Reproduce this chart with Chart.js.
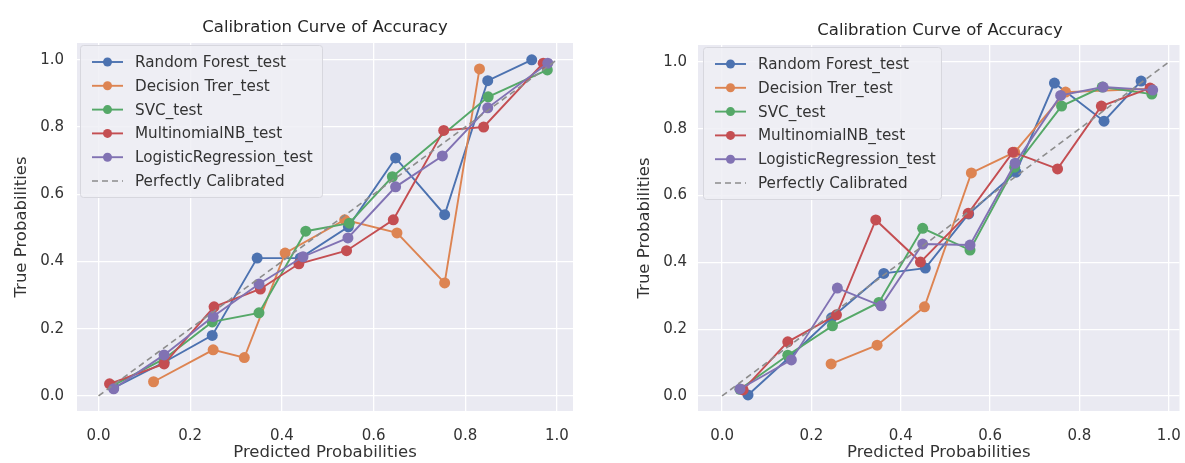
<!DOCTYPE html>
<html>
<head>
<meta charset="utf-8">
<script src="https://cdn.jsdelivr.net/npm/chart.js@4.4.1/dist/chart.umd.min.js"></script>
<style>
  html, body { margin: 0; padding: 0; background: #ffffff; }
  body { width: 1185px; height: 463px; position: relative; overflow: hidden; }
  canvas { position: absolute; top: 0; }
  #c1 { left: 0px; }
  #c2 { left: 600px; }
</style>
</head>
<body>
<canvas id="c1" width="592" height="463"></canvas>
<canvas id="c2" width="585" height="463"></canvas>
<script>
// ---------- data ----------
const seriesNames = ["Random Forest_test", "Decision Trer_test", "SVC_test", "MultinomialNB_test", "LogisticRegression_test"];
const diagName = "Perfectly Calibrated";
const chartTitle = "Calibration Curve of Accuracy";
const xAxisTitle = "Predicted Probabilities";
const yAxisTitle = "True Probabilities";
const xTicks = [0.0, 0.2, 0.4, 0.6, 0.8, 1.0];
const yTicks = [0.0, 0.2, 0.4, 0.6, 0.8, 1.0];
const diagX = [0, 1];
const diagY = [0, 1];

// left chart
const L_rf_x  = [0.033, 0.143, 0.248, 0.346, 0.44, 0.545, 0.648, 0.755, 0.849, 0.945];
const L_rf_y  = [0.024, 0.10, 0.18, 0.41, 0.41, 0.503, 0.708, 0.539, 0.938, 1.0];
const L_dt_x  = [0.12, 0.25, 0.318, 0.407, 0.537, 0.651, 0.755, 0.831];
const L_dt_y  = [0.042, 0.137, 0.114, 0.425, 0.524, 0.485, 0.336, 0.973];
const L_svc_x = [0.03, 0.143, 0.248, 0.35, 0.452, 0.547, 0.641, 0.85, 0.979];
const L_svc_y = [0.03, 0.11, 0.22, 0.247, 0.49, 0.514, 0.652, 0.89, 0.97];
const L_nb_x  = [0.024, 0.143, 0.252, 0.353, 0.437, 0.541, 0.643, 0.753, 0.84, 0.97];
const L_nb_y  = [0.036, 0.095, 0.265, 0.318, 0.393, 0.432, 0.524, 0.79, 0.80, 0.99];
const L_lr_x  = [0.033, 0.143, 0.25, 0.35, 0.446, 0.544, 0.648, 0.75, 0.849, 0.98];
const L_lr_y  = [0.021, 0.122, 0.236, 0.333, 0.414, 0.47, 0.622, 0.714, 0.857, 0.99];

// right chart
const R_rf_x  = [0.058, 0.15, 0.245, 0.362, 0.455, 0.552, 0.658, 0.744, 0.855, 0.938, 0.962];
const R_rf_y  = [0.003, 0.115, 0.234, 0.367, 0.383, 0.545, 0.67, 0.937, 0.823, 0.943, 0.916];
const R_dt_x  = [0.244, 0.347, 0.453, 0.558, 0.655, 0.769, 0.96];
const R_dt_y  = [0.096, 0.152, 0.267, 0.668, 0.73, 0.91, 0.92];
const R_svc_x = [0.04, 0.147, 0.247, 0.351, 0.449, 0.555, 0.655, 0.76, 0.851, 0.962];
const R_svc_y = [0.02, 0.122, 0.21, 0.28, 0.502, 0.437, 0.685, 0.868, 0.925, 0.904];
const R_nb_x  = [0.047, 0.147, 0.256, 0.344, 0.444, 0.551, 0.651, 0.751, 0.849, 0.958];
const R_nb_y  = [0.018, 0.162, 0.243, 0.527, 0.401, 0.547, 0.73, 0.68, 0.868, 0.922];
const R_lr_x  = [0.04, 0.155, 0.258, 0.356, 0.449, 0.555, 0.656, 0.758, 0.853, 0.964];
const R_lr_y  = [0.021, 0.108, 0.323, 0.27, 0.455, 0.452, 0.697, 0.9, 0.925, 0.916];

// ---------- style ----------
const colors = ["#4C72B0", "#DD8452", "#55A868", "#C44E52", "#8172B3"];
const diagColor = "#8c8c8c";
const FONT = "'DejaVu Sans', sans-serif";
const TEXT = "#333333";

function pts(xs, ys) { return xs.map((x, i) => ({ x: x, y: ys[i] })); }

function buildDatasets(series) {
  const ds = series.map((s, i) => ({
    label: seriesNames[i],
    data: pts(s[0], s[1]),
    borderColor: colors[i],
    backgroundColor: colors[i],
    borderWidth: 1.9,
    pointRadius: 5.5,
    pointBorderWidth: 0,
    pointBackgroundColor: colors[i],
    showLine: true,
    tension: 0,
    order: 10 - i
  }));
  ds.push({
    label: diagName,
    data: pts(diagX, diagY),
    borderColor: diagColor,
    borderWidth: 1.6,
    borderDash: [6, 4],
    pointRadius: 0,
    showLine: true,
    order: 1
  });
  return ds;
}

const decor = {
  id: 'decor',
  beforeDraw(chart, args, opts) {
    const { ctx, chartArea: a } = chart;
    ctx.save();
    ctx.fillStyle = '#EAEAF2';
    ctx.fillRect(a.left, a.top, a.right - a.left, a.bottom - a.top);
    ctx.restore();
  },
  afterDraw(chart, args, opts) {
    const { ctx, chartArea: a } = chart;
    ctx.save();
    // title
    ctx.fillStyle = '#262626';
    ctx.font = "16.5px " + FONT;
    ctx.textAlign = 'center';
    ctx.textBaseline = 'middle';
    ctx.fillText(chartTitle, opts.titleX, opts.titleY);
    // legend
    const lx = a.left + opts.legendDx;
    const ly = a.top + 2;
    ctx.fillStyle = 'rgba(238,238,244,0.85)';
    ctx.strokeStyle = 'rgba(215,215,222,1)';
    ctx.lineWidth = 1;
    const w = opts.legendW, h = opts.legendH;
    ctx.beginPath();
    if (ctx.roundRect) ctx.roundRect(lx + 0.5, ly + 0.5, w, h, 3); else ctx.rect(lx + 0.5, ly + 0.5, w, h);
    ctx.fill();
    ctx.stroke();
    ctx.font = "15.2px " + FONT;
    ctx.textAlign = 'left';
    ctx.textBaseline = 'middle';
    chart.data.datasets.forEach((d, i) => {
      const y = ly + opts.firstDy + i * opts.rowH;
      const x0 = lx + 12, x1 = lx + 43;
      ctx.save();
      ctx.strokeStyle = d.borderColor;
      ctx.lineWidth = d.borderWidth;
      if (d.borderDash) ctx.setLineDash(d.borderDash);
      ctx.beginPath(); ctx.moveTo(x0, y); ctx.lineTo(x1, y); ctx.stroke();
      ctx.restore();
      if (d.pointRadius > 0) {
        ctx.fillStyle = d.borderColor;
        ctx.beginPath(); ctx.arc((x0 + x1) / 2, y, 4.5, 0, Math.PI * 2); ctx.fill();
      }
      ctx.fillStyle = TEXT;
      ctx.fillText(d.label, lx + 55, y + 1);
    });
    ctx.restore();
  }
};

function makeChart(id, series, cfg) {
  return new Chart(document.getElementById(id), {
    type: 'scatter',
    data: { datasets: buildDatasets(series) },
    plugins: [decor],
    options: {
      responsive: false,
      maintainAspectRatio: false,
      animation: false,
      layout: { padding: { top: cfg.top, right: cfg.right, left: 0, bottom: 0 } },
      plugins: {
        legend: { display: false },
        tooltip: { enabled: false },
        decor: { titleX: cfg.titleX, titleY: cfg.titleY, legendDx: cfg.legendDx, legendW: cfg.legendW, legendH: 152, firstDy: 17, rowH: 23.8 }
      },
      scales: {
        x: {
          type: 'linear',
          min: cfg.xmin, max: cfg.xmax,
          afterBuildTicks: (s) => { s.ticks = xTicks.map(v => ({ value: v })); },
          afterFit: (s) => { s.height = 52; s.paddingLeft = 0; s.paddingRight = 0; },
          grid: { color: '#ffffff', lineWidth: 1.3, drawTicks: false },
          border: { display: false },
          ticks: { padding: 16, color: TEXT, font: { family: FONT, size: 15 }, callback: (v) => v.toFixed(1), maxRotation: 0 },
          title: { display: true, text: xAxisTitle, color: TEXT, font: { family: FONT, size: 16.5 }, padding: { top: 0, bottom: 0 } }
        },
        y: {
          type: 'linear',
          min: -0.045, max: cfg.ymax,
          afterBuildTicks: (s) => { s.ticks = yTicks.map(v => ({ value: v })); },
          afterFit: (s) => { s.width = cfg.yw; s.paddingTop = 0; s.paddingBottom = 0; },
          grid: { color: '#ffffff', lineWidth: 1.3, drawTicks: false },
          border: { display: false },
          ticks: { padding: cfg.ypad, color: TEXT, font: { family: FONT, size: 15 }, callback: (v) => v.toFixed(1) },
          title: { display: true, text: yAxisTitle, color: TEXT, font: { family: FONT, size: 16.5 }, padding: { top: cfg.ytitlePad, bottom: 0 } }
        }
      }
    }
  });
}

makeChart('c1',
  [[L_rf_x, L_rf_y], [L_dt_x, L_dt_y], [L_svc_x, L_svc_y], [L_nb_x, L_nb_y], [L_lr_x, L_lr_y]],
  { top: 43, right: 19, yw: 77, ypad: 13, ytitlePad: 12, xmin: -0.047, xmax: 1.035, ymax: 1.05, titleX: 325, titleY: 28, legendDx: 3, legendW: 242 });

makeChart('c2',
  [[R_rf_x, R_rf_y], [R_dt_x, R_dt_y], [R_svc_x, R_svc_y], [R_nb_x, R_nb_y], [R_lr_x, R_lr_y]],
  { top: 45, right: 2, yw: 98, ypad: 11, ytitlePad: 35, xmin: -0.054, xmax: 1.024, ymax: 1.051, titleX: 340, titleY: 31, legendDx: 5, legendW: 238 });
</script>
</body>
</html>
